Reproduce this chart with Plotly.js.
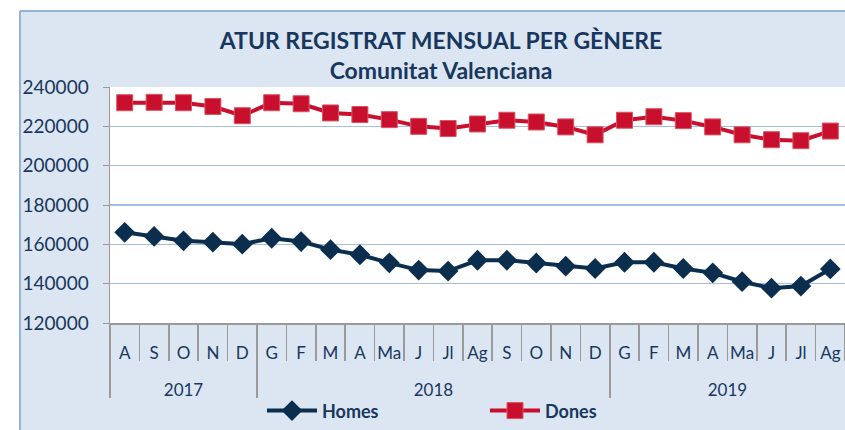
<!DOCTYPE html>
<html>
<head>
<meta charset="utf-8">
<script src="https://cdn.plot.ly/plotly-3.0.1.min.js"></script>
<style>html,body{margin:0;padding:0;background:#fff;}#chart{width:845px;height:430px;}</style>
</head>
<body>
<div id="chart"></div>
<script>
const months = ['A','S','O','N','D',
  'G','F','M','A','Ma','J','Jl','Ag','S','O','N','D',
  'G','F','M','A','Ma','J','Jl','Ag'];
const yearLabels = ['2017','2018','2019'];
const yearCounts = [5, 12, 8];
const homes = [166100,164000,161800,161100,160100,
  163100,161400,157300,154700,150600,146900,146400,151900,151900,150500,148900,147700,
  150900,150900,147700,145500,141000,137700,138800,147500];
const dones = [232000,232200,232000,230100,225400,
  232000,231500,226800,226000,223400,220000,218900,221200,223100,222200,219700,215700,
  223100,224900,222900,219700,215700,213200,212700,217600];
const yTicks = [120000,140000,160000,180000,200000,220000,240000];

// positions derived from the categories
const idx = months.map((m, i) => i);
const boundaries = months.map((m, i) => i - 0.5).concat([months.length - 0.5]);
const yearStarts = [], yearCenters = [];
let acc = 0;
yearCounts.forEach(c => { yearStarts.push(acc - 0.5); yearCenters.push(acc + (c - 1) / 2); acc += c; });

const navy = '#0B2D4E';
const red = '#C8102E';
const txt = '#17375E';
const axisGray = '#9A9A9A';
const FONT = 'Lato, "Open Sans", sans-serif';

const helper = ax => ({x:[], y:[], xaxis:ax, yaxis:'y', type:'scatter', mode:'markers',
  showlegend:false, hoverinfo:'skip'});

const traces = [
  {x:idx, y:homes, name:'Homes', type:'scatter', mode:'lines+markers',
   line:{color:navy, width:4}, marker:{symbol:'diamond', size:16, color:navy}},
  {x:idx, y:dones, name:'Dones', type:'scatter', mode:'lines+markers',
   line:{color:red, width:4}, marker:{symbol:'square', size:16, color:red, line:{color:'#D9545F', width:1}}},
  helper('x2'), helper('x3'), helper('x4')
];

const xr = [-0.5, months.length - 0.5];
const boxL = (20-110)/735;
const boxT = 1 + 77/239;

const layout = {
  width:845, height:430,
  margin:{l:110, r:0, t:87, b:104, pad:0},
  paper_bgcolor:'#DCE6F2', plot_bgcolor:'#FFFFFF',
  font:{family:FONT, color:txt, size:18},
  title:{text:'ATUR REGISTRAT MENSUAL PER GÈNERE<br>Comunitat Valenciana',
    font:{family:FONT, size:23, color:txt, weight:'bold'},
    x:441/845, xanchor:'center', xref:'container', y:1-49/430, yanchor:'top'},
  showlegend:true,
  legend:{orientation:'h', x:(262-110)/735, xanchor:'left', y:1-(415-87)/239, yanchor:'middle',
    bgcolor:'rgba(0,0,0,0)', font:{family:FONT, size:18, color:txt, weight:'bold'},
    itemwidth:50, entrywidth:158, entrywidthmode:'pixels', itemclick:false},
  xaxis:{range:xr, tickvals:idx, ticktext:months, ticks:'', tickangle:0,
    showline:true, linecolor:axisGray, linewidth:1.5, showgrid:false, zeroline:false,
    ticklabelstandoff:14, tickfont:{family:FONT, size:17, color:txt}, automargin:false},
  xaxis2:{overlaying:'x', anchor:'y', side:'bottom', range:xr, tickvals:boundaries,
    ticks:'outside', ticklen:37, tickwidth:1.5, tickcolor:axisGray, showticklabels:false,
    showline:false, showgrid:false, zeroline:false, automargin:false},
  xaxis3:{overlaying:'x', anchor:'y', side:'bottom', range:xr, tickvals:yearStarts,
    ticks:'outside', ticklen:74, tickwidth:1.5, tickcolor:axisGray, showticklabels:false,
    showline:false, showgrid:false, zeroline:false, automargin:false},
  xaxis4:{overlaying:'x', anchor:'y', side:'bottom', range:xr, tickvals:yearCenters, ticktext:yearLabels,
    ticks:'', tickangle:0, showline:false, showgrid:false, zeroline:false,
    ticklabelstandoff:55, tickfont:{family:FONT, size:17, color:txt}, automargin:false},
  yaxis:{range:[120000,240000], tickvals:yTicks, ticktext:yTicks.map(String),
    showgrid:true, gridcolor:'#A4BEE2', gridwidth:1.5, zeroline:false,
    showline:true, linecolor:axisGray, linewidth:1.5, ticks:'outside', ticklen:6, tickcolor:axisGray,
    ticklabelstandoff:10,
    tickfont:{family:FONT, size:19, color:txt}, automargin:false},
  shapes:[
    {type:'rect', xref:'paper', yref:'paper', x0:-1, x1:boxL, y0:-2, y1:3, fillcolor:'#FFFFFF', line:{width:0}, layer:'above'},
    {type:'rect', xref:'paper', yref:'paper', x0:-1, x1:2, y0:boxT, y1:3, fillcolor:'#FFFFFF', line:{width:0}, layer:'above'},
    {type:'line', xref:'paper', yref:'paper', x0:boxL, x1:boxL, y0:-2, y1:boxT, line:{color:'#95B3D7', width:2}, layer:'above'},
    {type:'line', xref:'paper', yref:'paper', x0:boxL, x1:2, y0:boxT, y1:boxT, line:{color:'#95B3D7', width:2}, layer:'above'}
  ]
};

Plotly.newPlot('chart', traces, layout, {displayModeBar:false, staticPlot:true});
</script>
</body>
</html>
